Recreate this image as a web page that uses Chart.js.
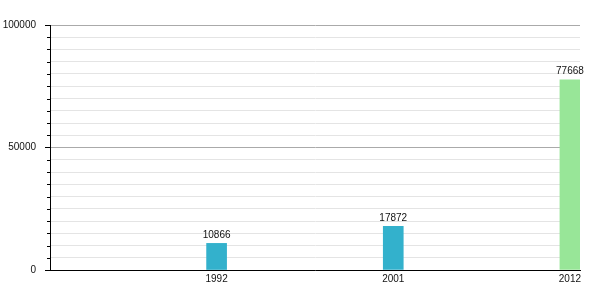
<!DOCTYPE html>
<html>
<head>
<meta charset="utf-8">
<script src="https://cdn.jsdelivr.net/npm/chart.js@4"></script>
<style>
  html, body { margin: 0; padding: 0; background: #fff; }
  #wrap { width: 600px; height: 300px; }
</style>
</head>
<body>
<div id="wrap"><canvas id="c" width="600" height="300"></canvas></div>
<script>
const years = ['1992', '2001', '2012'];
const population = [10866, 17872, 77668];
const barColors = ['#33b1cc', '#33b1cc', '#98e698'];
const yMajorTicks = [0, 50000, 100000];

const FONT = '"Liberation Sans", Arial, sans-serif';

const points = years.map((y, i) => ({ x: i + 1, y: population[i] }));

const valueLabels = {
  id: 'valueLabels',
  afterDatasetsDraw(chart) {
    const ctx = chart.ctx;
    const meta = chart.getDatasetMeta(0);
    ctx.save();
    ctx.font = '10px ' + FONT;
    ctx.fillStyle = '#111';
    ctx.textAlign = 'center';
    ctx.textBaseline = 'bottom';
    meta.data.forEach((el, i) => {
      ctx.fillText(String(population[i]), el.x, el.y - 3);
    });
    ctx.restore();
  }
};

const minorTicks = {
  id: 'minorTicks',
  afterDraw(chart) {
    const ys = chart.scales.y;
    const ctx = chart.ctx;
    ctx.save();
    ctx.strokeStyle = '#000';
    ctx.lineWidth = 1;
    ys.ticks.forEach(t => {
      if (yMajorTicks.includes(t.value)) return;
      const py = Math.round(ys.getPixelForValue(t.value)) + 0.5;
      ctx.beginPath();
      ctx.moveTo(ys.right - 3, py);
      ctx.lineTo(ys.right, py);
      ctx.stroke();
    });
    ctx.restore();
  }
};

new Chart(document.getElementById('c'), {
  type: 'bar',
  data: {
    datasets: [{
      data: points,
      backgroundColor: barColors,
      borderWidth: 0,
      barThickness: 20
    }]
  },
  options: {
    responsive: false,
    animation: false,
    layout: { padding: { top: 25, right: 20, bottom: 0, left: 0 } },
    plugins: { legend: { display: false }, tooltip: { enabled: false } },
    scales: {
      x: {
        type: 'linear',
        offset: false,
        min: 0.057,
        max: 3.057,
        afterBuildTicks: (scale) => { scale.ticks = years.map((y, i) => ({ value: i + 1 })); },
        afterFit: (scale) => { scale.height = 30; },
        grid: { display: false, drawTicks: false, offset: false },
        border: { display: true, color: '#000', width: 1 },
        ticks: {
          padding: 3,
          autoSkip: false,
          maxRotation: 0,
          color: '#111',
          font: { family: FONT, size: 10 },
          callback: (v) => years[v - 1] ?? ''
        }
      },
      y: {
        min: 0,
        max: 100000,
        afterFit: (scale) => { scale.width = 50; },
        ticks: {
          stepSize: 5000,
          padding: 9,
          autoSkip: false,
          color: '#111',
          font: { family: FONT, size: 10 },
          callback: (v) => yMajorTicks.includes(v) ? String(v) : ''
        },
        grid: {
          color: (c) => (c.tick && yMajorTicks.includes(c.tick.value)) ? '#aaaaaa' : '#e4e4e4',
          tickColor: (c) => (c.tick && yMajorTicks.includes(c.tick.value)) ? '#000' : 'rgba(0,0,0,0)',
          tickLength: 5,
          lineWidth: 1
        },
        border: { display: true, color: '#000', width: 1 }
      }
    }
  },
  plugins: [valueLabels, minorTicks]
});
</script>
</body>
</html>
